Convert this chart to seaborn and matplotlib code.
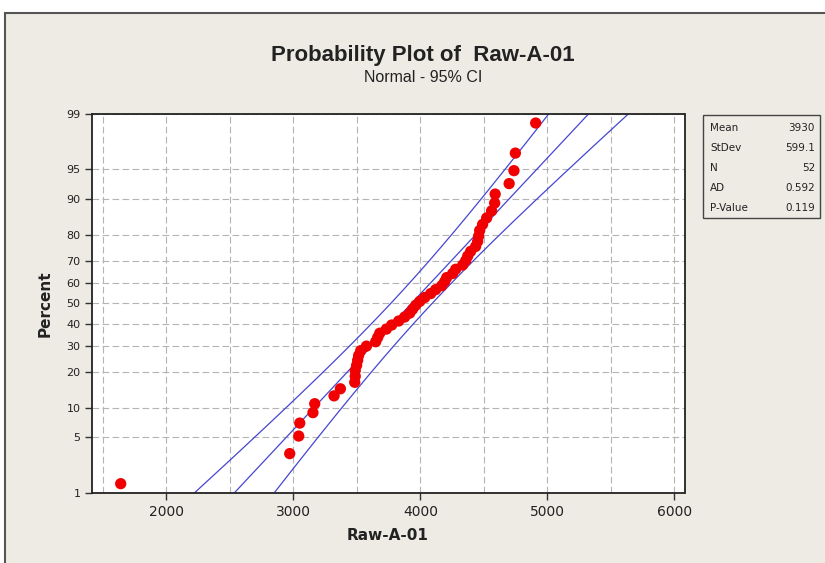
from statistics import NormalDist

import matplotlib
matplotlib.use("Agg")
import matplotlib.pyplot as plt
import numpy as np
import pandas as pd
import seaborn as sns
from matplotlib.patches import Rectangle
from matplotlib.ticker import FixedLocator

# sorted sample values (n = 52)
raw_values = [
    1640, 2971, 3042, 3050, 3154, 3168, 3320, 3370, 3487, 3483,
    3487, 3498, 3506, 3514, 3530, 3575, 3648, 3664, 3680, 3732,
    3774, 3829, 3876, 3916, 3939, 3963, 3995, 4034, 4081, 4120,
    4168, 4191, 4207, 4254, 4278, 4333, 4357, 4373, 4396, 4435,
    4451, 4459, 4467, 4490, 4522, 4561, 4585, 4589, 4699, 4737,
    4748, 4908,
]
stat_names = ["Mean", "StDev", "N", "AD", "P-Value"]
stat_labels = ["3930", "599.1", "52", "0.592", "0.119"]
mean_val = 3930.0
sd_val = 599.1
pct_ticks = [1, 5, 10, 20, 30, 40, 50, 60, 70, 80, 90, 95, 99]
x_ticks = [2000, 3000, 4000, 5000, 6000]
x_grid = [1500, 2500, 3500, 4500, 5500]

BG = "#eeebe4"
RED = "#f00000"
BLUE = "#4646d2"
TEXT = "#222222"

sns.set_theme(style="white")
plt.rcParams["font.family"] = ["DejaVu Sans"]
nd = NormalDist()


def fwd(p):
    p = np.clip(np.asarray(p, dtype=float), 1e-6, 100 - 1e-6)
    return np.vectorize(lambda v: nd.inv_cdf(v / 100.0), otypes=[float])(p)


def inv(z):
    return np.vectorize(lambda v: nd.cdf(v) * 100.0, otypes=[float])(np.asarray(z, dtype=float))


# median-rank plotting positions, as the probability plot computes them
n = len(raw_values)
ranks = np.arange(1, n + 1)
points = pd.DataFrame({"x": np.sort(raw_values), "pct": (ranks - 0.3) / (n + 0.4) * 100})

# fitted line and 95% CI bands
pgrid = np.linspace(0.05, 99.95, 400)
zgrid = fwd(pgrid)
fit_x = mean_val + zgrid * sd_val
half = 1.96 * sd_val * np.sqrt((1 + zgrid ** 2 / 2) / n)
lines = pd.concat([
    pd.DataFrame({"x": fit_x - half, "pct": pgrid, "band": "lower"}),
    pd.DataFrame({"x": fit_x, "pct": pgrid, "band": "fit"}),
    pd.DataFrame({"x": fit_x + half, "pct": pgrid, "band": "upper"}),
])

fig = plt.figure(figsize=(8.25, 5.63), dpi=100, facecolor="white")
# panel background runs off the right and bottom edges
fig.patches.append(Rectangle((5 / 825, -0.2), 1.2, 1.2 - 13 / 563, transform=fig.transFigure,
                             facecolor=BG, edgecolor="#555555", linewidth=1.5, zorder=-10))

ax = fig.add_axes([91.5 / 825, 1 - 492.7 / 563, 593 / 825, 378.7 / 563])
ax.set_facecolor("white")
ax.set_yscale("function", functions=(fwd, inv))

sns.lineplot(data=lines, x="x", y="pct", units="band", estimator=None, sort=False,
             color=BLUE, linewidth=0.9, ax=ax, legend=False)
sns.scatterplot(data=points, x="x", y="pct", color=RED, s=66, edgecolor="none", ax=ax,
                zorder=5, legend=False)

ax.set_xlim(1410, 6080)
ax.set_ylim(1, 99)
ax.yaxis.set_major_locator(FixedLocator(pct_ticks))
ax.yaxis.set_minor_locator(FixedLocator([]))
ax.set_yticklabels([str(t) for t in pct_ticks])
ax.xaxis.set_major_locator(FixedLocator(x_ticks))
ax.xaxis.set_minor_locator(FixedLocator(x_grid))
ax.set_xticklabels([str(t) for t in x_ticks])

ax.grid(True, which="both", color="#b4b4b4", linestyle=(0, (6, 3)), linewidth=0.8)
ax.tick_params(axis="both", which="major", direction="out", length=5, width=1,
               color="#333333", labelcolor=TEXT, bottom=True, left=True)
ax.tick_params(axis="x", which="major", labelsize=10, pad=4)
ax.tick_params(axis="y", which="major", labelsize=8, pad=3)
ax.tick_params(which="minor", length=0)
for sp in ax.spines.values():
    sp.set_color("#222222")
    sp.set_linewidth(1.3)

ax.set_xlabel("Raw-A-01", fontsize=11, fontweight="bold", color=TEXT, labelpad=6)
ax.set_ylabel("Percent", fontsize=11, fontweight="bold", color=TEXT, labelpad=10)

title_font = ["Liberation Sans", "DejaVu Sans"]
fig.text(423 / 825, 1 - 56 / 563, "Probability Plot of  Raw-A-01", ha="center", va="center",
         fontsize=16, fontweight="bold", color=TEXT, family=title_font)
fig.text(423 / 825, 1 - 78 / 563, "Normal - 95% CI", ha="center", va="center",
         fontsize=11.5, color=TEXT, family=title_font)

# statistics box
bx0, bx1, by0, by1 = 703, 820, 115, 218
fig.patches.append(Rectangle((bx0 / 825, 1 - by1 / 563), (bx1 - bx0) / 825, (by1 - by0) / 563,
                             transform=fig.transFigure, facecolor=BG, edgecolor="#444444",
                             linewidth=1.0))
for i, (name, val) in enumerate(zip(stat_names, stat_labels)):
    yy = 1 - (128 + i * 20) / 563
    fig.text(710 / 825, yy, name, ha="left", va="center", fontsize=7.5, color=TEXT)
    fig.text(815 / 825, yy, val, ha="right", va="center", fontsize=7.5, color=TEXT)

fig.savefig("out.png", dpi=100, facecolor="white")
